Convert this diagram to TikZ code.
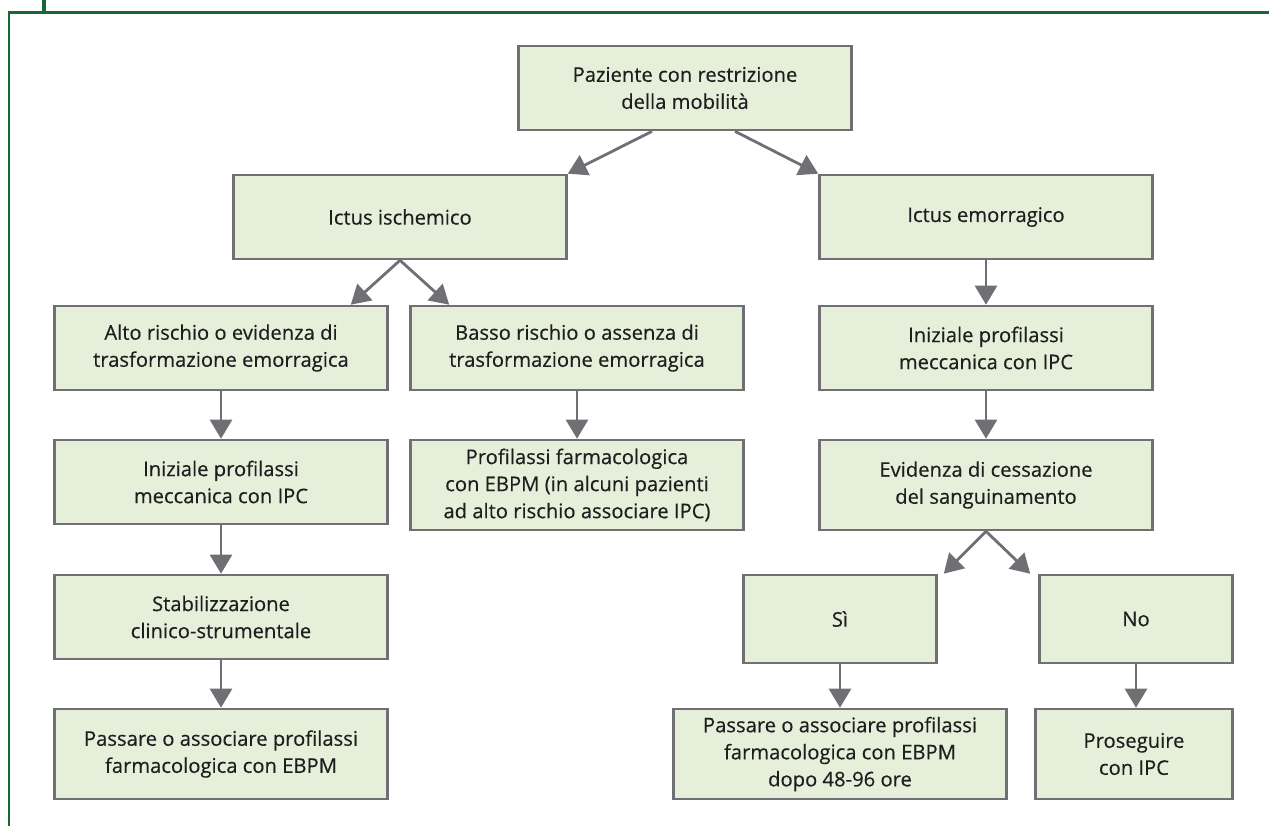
\documentclass[tikz,border=0pt]{standalone}
\usepackage{fontspec}
\setmainfont{Open Sans}
\newfontfamily\boxfont[FakeBold=0.35]{Open Sans}
\usetikzlibrary{arrows.meta, positioning, calc}
\definecolor{boxfill}{RGB}{230,239,217}
\definecolor{boxline}{RGB}{112,112,116}
\definecolor{framegreen}{RGB}{22,104,52}
\definecolor{txt}{RGB}{30,30,30}

\begin{document}
\begin{tikzpicture}[x=0.02cm, y=-0.02cm,
    box/.style={rectangle, draw=boxline, line width=1.5pt, fill=boxfill, text=txt, minimum width=6.66cm, minimum height=1.68cm, align=center, inner sep=2pt, font=\boxfont\fontsize{11.5}{15.4}\selectfont},
    tall/.style={box, minimum height=1.8cm},
    small/.style={box, minimum width=3.86cm, minimum height=1.76cm},
    arrow/.style={-{Triangle[length=0.38cm, width=0.44cm]}, line width=1.6pt, draw=boxline}
]
\useasboundingbox (0,0) rectangle (1269,826);
% frame
\draw[framegreen, line width=1.7pt] (1269,12) -- (9,12) -- (9,826);
\draw[framegreen, line width=2.4pt] (44,0) -- (44,12);

\node[box] (paz) at (685,88) {Paziente con restrizione\\della mobilità};
\node[box] (isch) at (400,217) {Ictus ischemico};
\node[box] (emor) at (986,217) {Ictus emorragico};

% ramo ischemico
\node[box] (alto) at (221,348) {Alto rischio o evidenza di\\trasformazione emorragica};
\node[box] (basso) at (577,348) {Basso rischio o assenza di\\trasformazione emorragica};
\node[box] (inizL) at (221,482) {Iniziale profilassi\\meccanica con IPC};
\node[tall] (farm) at (577,485) {Profilassi farmacologica\\con EBPM (in alcuni pazienti\\ad alto rischio associare IPC)};
\node[box] (stab) at (221,617) {Stabilizzazione\\clinico-strumentale};
\node[tall] (passL) at (221,754) {Passare o associare profilassi\\farmacologica con EBPM};

% ramo emorragico
\node[box] (inizR) at (986,348) {Iniziale profilassi\\meccanica con IPC};
\node[tall] (evid) at (986,485) {Evidenza di cessazione\\del sanguinamento};
\node[small] (si) at (840,619) {Sì};
\node[small] (no) at (1136,619) {No};
\node[tall] (passR) at (840,754) {Passare o associare profilassi\\farmacologica con EBPM\\dopo 48-96 ore};
\node[tall, minimum width=3.94cm] (pros) at (1134,754) {Proseguire\\con IPC};

\draw[arrow] ([xshift=-0.66cm]paz.south) -- (isch.north east);
\draw[arrow] ([xshift=1cm]paz.south) -- (emor.north west);
\draw[arrow] (isch.south) -- ([xshift=-0.76cm]alto.north east);
\draw[arrow] (isch.south) -- ([xshift=0.8cm]basso.north west);
\draw[arrow] (alto) -- (inizL);
\draw[arrow] (inizL) -- (stab);
\draw[arrow] (stab) -- (passL);
\draw[arrow] (basso) -- (farm);
\draw[arrow] (emor) -- (inizR);
\draw[arrow] (inizR) -- (evid);
\draw[arrow] (evid.south) -- ([xshift=0.12cm]si.north east);
\draw[arrow] (evid.south) -- ([xshift=-0.16cm]no.north west);
\draw[arrow] (si) -- (passR);
\draw[arrow] (no.south) -- (no.south |- pros.north);
\end{tikzpicture}
\end{document}
